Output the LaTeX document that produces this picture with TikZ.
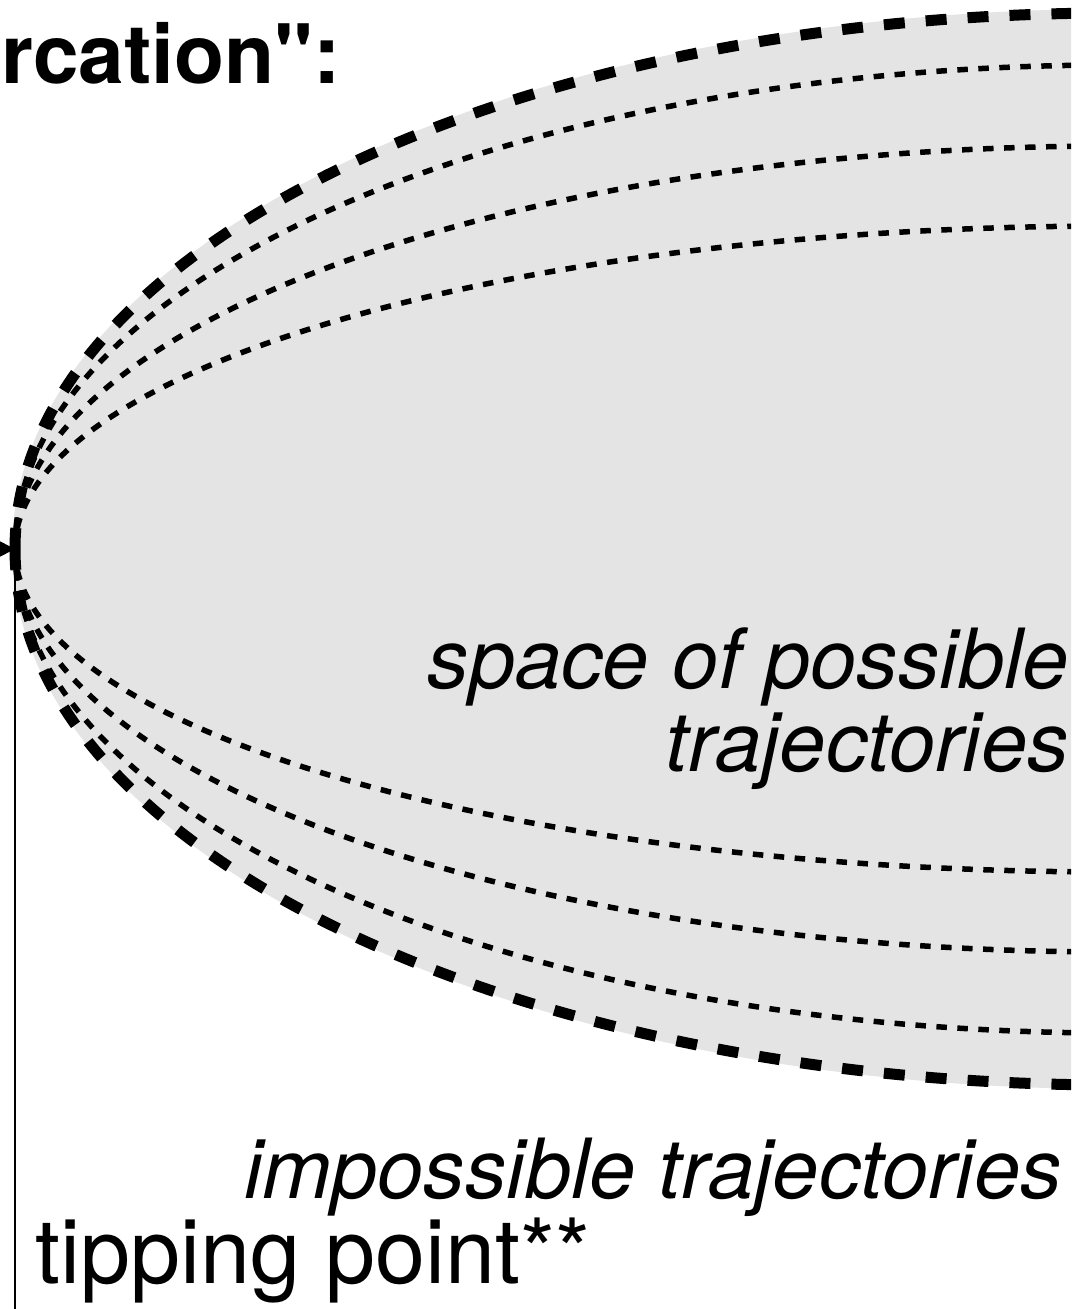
\documentclass[tikz,border=0pt]{standalone}
\usepackage{fontspec}
\setmainfont{TeX Gyre Heros}[Ligatures=TeXOff]
\usetikzlibrary{arrows.meta}
\definecolor{spacegray}{RGB}{228,228,228}

\begin{document}
\begin{tikzpicture}[x=1pt, y=-1pt,
    outerdash/.style={line width=11pt, dash pattern=on 21pt off 21pt},
    innerdot/.style={line width=5.5pt, dash pattern=on 10.5pt off 10.5pt},
    titlelabel/.style={font=\fontsize{82}{90}\selectfont\bfseries, inner sep=0pt},
    biglabel/.style={font=\fontsize{90}{96}\selectfont, inner sep=0pt},
    itlabel/.style={font=\fontsize{83}{90}\selectfont\itshape, inner sep=0pt}]
  \useasboundingbox (0,0) rectangle (1071,1309);
  \clip (0,0) rectangle (1071,1309);
  \coordinate (tip) at (15,549);
  \coordinate (axisstart) at (-120,549);
  \coordinate (labelfoot) at (15,1330);
  % grey region
  \fill[spacegray] (1115,549) ellipse[x radius=1103pt, y radius=540pt];
  % possible trajectories
  \foreach \b in {484,403,323}
    \draw[innerdot] (tip) arc[start angle=180, end angle=90, x radius=1100pt, y radius=\b pt]
                    (tip) arc[start angle=180, end angle=270, x radius=1100pt, y radius=\b pt];
  % boundary
  \draw[outerdash] (tip) arc[start angle=180, end angle=90, x radius=1100pt, y radius=536pt]
                   (tip) arc[start angle=180, end angle=270, x radius=1100pt, y radius=536pt];
  % axis and marker
  \draw[line width=2.5pt, -{Triangle[length=22pt, width=22pt]}] (axisstart) -- (tip);
  \draw[line width=2.5pt] (tip) -- (labelfoot);
  \node[titlelabel, anchor=base west] (title) at (1,83) {rcation":};
  \node[itlabel, anchor=base east] (space) at (1069,688) {space of possible};
  \node[itlabel, anchor=base east] (traj) at (1069,771) {trajectories};
  \node[itlabel, anchor=base east] (impossible) at (1062,1198) {impossible trajectories};
  \node[biglabel, anchor=base west] (tipping) at (35,1283) {tipping point**};
\end{tikzpicture}
\end{document}
